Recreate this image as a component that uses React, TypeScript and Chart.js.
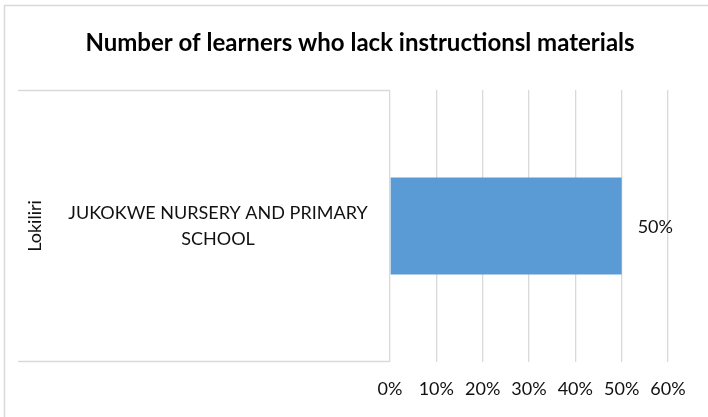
import React, { useEffect, useRef } from "react";
import { Chart, registerables } from "chart.js";

Chart.register(...registerables);

const titleText = "Number of learners who lack instructionsl materials";
const groupLabels = ["Lokiliri"];
const categories = ["JUKOKWE NURSERY AND PRIMARY SCHOOL"];
const categoryLines = [["JUKOKWE NURSERY AND PRIMARY", "SCHOOL"]];
const values = [0.5];
const axisMin = 0;
const axisMax = 0.6;
const axisStep = 0.1;

const FONT = "Lato, 'Open Sans', sans-serif";
const TEXT = "#111111";
const GRID = "#d9d9d9";

const pct = (v: number) => Math.round(v * 100) + "%";

const decorPlugin = {
  id: "decor",
  afterDraw(chart: any) {
    const ctx = chart.ctx;
    const area = chart.chartArea;
    const yScale = chart.scales.y;
    ctx.save();
    // outer chart border (left and top visible)
    ctx.strokeStyle = "#d9d9d9";
    ctx.lineWidth = 1.5;
    ctx.beginPath();
    ctx.moveTo(4.5, 420);
    ctx.lineTo(4.5, 5.5);
    ctx.lineTo(712, 5.5);
    ctx.stroke();

    // title
    ctx.fillStyle = "#000000";
    ctx.font = `bold 24px ${FONT}`;
    ctx.textAlign = "center";
    ctx.textBaseline = "middle";
    ctx.fillText(titleText, 360, 43);

    // category box lines
    ctx.strokeStyle = GRID;
    ctx.lineWidth = 1.3;
    ctx.beginPath();
    ctx.moveTo(18, area.top + 0.5);
    ctx.lineTo(area.left, area.top + 0.5);
    ctx.moveTo(18, area.bottom - 0.5);
    ctx.lineTo(area.left, area.bottom - 0.5);
    ctx.stroke();

    // category labels
    ctx.font = `18px ${FONT}`;
    ctx.fillStyle = TEXT;
    categories.forEach((_, i) => {
      const cy = yScale.getPixelForValue(i);
      const lines = categoryLines[i];
      const lh = 26;
      const start = cy - ((lines.length - 1) * lh) / 2;
      lines.forEach((ln, j) => {
        ctx.fillText(ln, 218, start + j * lh);
      });
    });

    // group label (rotated)
    const gy = (area.top + area.bottom) / 2;
    ctx.translate(35, gy);
    ctx.rotate(-Math.PI / 2);
    ctx.fillText(groupLabels[0], 0, 0);
    ctx.restore();
  },
  afterDatasetsDraw(chart: any) {
    const ctx = chart.ctx;
    const meta = chart.getDatasetMeta(0);
    ctx.save();
    ctx.font = `18px ${FONT}`;
    ctx.fillStyle = TEXT;
    ctx.textAlign = "left";
    ctx.textBaseline = "middle";
    meta.data.forEach((el: any, i: number) => {
      ctx.fillText(pct(values[i]), el.x + 16, el.y + 1);
    });
    ctx.restore();
  },
};

export default function App() {
  const ref = useRef<HTMLCanvasElement | null>(null);
  useEffect(() => {
    if (!ref.current) return;
    const chart = new Chart(ref.current, {
      type: "bar",
      data: {
        labels: categories,
        datasets: [
          {
            data: values,
            backgroundColor: "#5b9bd5",
            borderWidth: 0,
            barPercentage: 0.357,
            categoryPercentage: 1,
          },
        ],
      },
      options: {
        indexAxis: "y",
        animation: false,
        responsive: false,
        devicePixelRatio: 1,
        layout: { padding: { left: 390, right: 40, top: 90, bottom: 0 } },
        plugins: { legend: { display: false }, tooltip: { enabled: false }, title: { display: false } },
        scales: {
          x: {
            min: axisMin,
            max: axisMax,
            ticks: {
              stepSize: axisStep,
              callback: (v: any) => pct(Number(v)),
              font: { family: FONT, size: 18 },
              color: TEXT,
              padding: 16,
            },
            grid: { color: GRID, lineWidth: 1.3, drawTicks: false },
            border: { display: false },
            afterFit: (s: any) => {
              s.height = 55;
            },
          },
          y: { display: false },
        },
      },
      plugins: [decorPlugin],
    } as any);
    return () => chart.destroy();
  }, []);
  return (
    <div style={{ position: "absolute", left: 0, top: 0, width: 708, height: 417, background: "#fff" }}>
      <canvas ref={ref} width={708} height={417} style={{ display: "block", width: 708, height: 417 }} />
    </div>
  );
}
